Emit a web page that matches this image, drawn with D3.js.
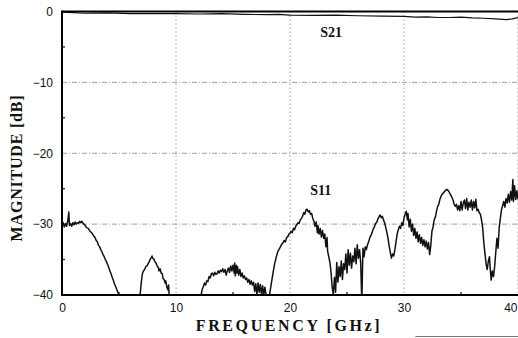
<!DOCTYPE html>
<html lang="en">
<head>
<meta charset="UTF-8">
<title>S-parameters vs frequency</title>
<script src="https://d3js.org/d3.v7.min.js"></script>
<style>
  body { margin: 0; background: #fff; }
  .tick text { font-family: "Liberation Sans", Arial, sans-serif; font-size: 12px; fill: #111; }
  .title { font-family: "Liberation Serif", "Times New Roman", serif; font-weight: bold; fill: #111; }
</style>
</head>
<body>
<svg id="chart" width="518" height="338"></svg>
<script>
// tick labels
var xTicks = [0, 10, 20, 30, 40];
var yTicks = [0, -10, -20, -30, -40];
var xMinor = [5, 15, 25, 35];
var yMinor = [-5, -15, -25, -35];

// S21 [GHz, dB]
var s21 = [[0,-0.1],[1,-0.15],[2,-0.25],[4,-0.2],[6,-0.3],[8,-0.3],[10,-0.3],[12,-0.35],[14,-0.3],
  [16,-0.4],[18,-0.45],[19,-0.4],[20,-0.5],[22,-0.55],[24,-0.5],[26,-0.6],[28,-0.65],[30,-0.7],
  [31,-0.8],[32,-0.75],[33,-0.85],[34,-0.85],[35,-0.8],[36,-0.9],[37,-0.95],[38,-1.05],[39,-1.15],
  [39.5,-1.05],[40,-0.85]];

// S11 [GHz, dB], values under -40 run off the axis
var s11 = [[0,-30.2],[0.1,-29.8],[0.2,-30.4],[0.3,-29.9],[0.4,-30.3],[0.5,-29.6],[0.6,-28.3],[0.65,-30.2],
  [0.75,-29.9],[0.85,-30.3],[0.95,-29.8],[1.05,-30.1],[1.15,-29.7],[1.25,-30.0],[1.35,-29.8],[1.45,-29.9],
  [1.55,-29.6],[1.65,-29.8],[1.75,-29.6],[1.85,-29.9],[2.0,-30.1],[2.15,-30.5],[2.3,-30.6],[2.45,-31.0],
  [2.6,-31.2],[2.75,-31.6],[2.9,-31.9],[3.0,-32.3],[3.1,-32.5],[3.2,-33.0],[3.3,-33.2],[3.4,-33.6],
  [3.5,-33.9],[3.6,-34.3],[3.7,-34.6],[3.8,-35.0],[3.9,-35.3],[4.0,-35.7],[4.1,-36.1],[4.2,-36.6],
  [4.3,-37.0],[4.4,-37.5],[4.5,-37.9],[4.6,-38.4],[4.7,-38.8],[4.8,-39.2],[4.9,-39.6],[5.0,-40.0],
  [5.1,-41],[6.8,-41],
  [6.85,-40],[6.95,-38.3],[7.05,-37.0],[7.15,-36.6],[7.25,-36.4],[7.35,-36.0],[7.45,-35.9],[7.55,-35.6],
  [7.65,-35.3],[7.75,-34.9],[7.85,-34.7],[7.9,-34.5],[7.95,-34.8],[8.05,-34.9],[8.15,-35.3],[8.25,-35.5],
  [8.35,-35.9],[8.45,-36.1],[8.5,-36.6],[8.6,-36.3],[8.7,-36.9],[8.8,-37.0],[8.85,-37.6],[8.95,-37.8],
  [9.05,-38.3],[9.1,-38.0],[9.2,-38.9],[9.3,-39.3],[9.35,-38.6],[9.4,-40],[9.5,-41],[12.1,-41],
  [12.2,-40],[12.3,-39.2],[12.4,-38.8],[12.5,-38.3],[12.6,-38.6],[12.7,-38.0],[12.8,-38.1],[12.9,-37.4],
  [13.0,-37.6],[13.1,-37.0],[13.2,-36.9],[13.3,-37.3],[13.4,-36.8],[13.5,-37.1],[13.6,-37.0],[13.7,-36.6],
  [13.8,-36.9],[13.9,-36.5],[14.0,-36.7],[14.1,-36.3],[14.2,-36.8],[14.3,-36.4],[14.4,-37.2],[14.5,-36.6],
  [14.6,-36.2],[14.7,-36.8],[14.8,-35.9],[14.9,-36.6],[15.0,-35.8],[15.1,-36.9],[15.15,-35.5],[15.2,-37.3],
  [15.3,-35.8],[15.35,-36.9],[15.4,-36.0],[15.5,-37.2],[15.6,-36.4],[15.7,-37.4],[15.8,-36.9],[15.9,-37.6],
  [16.0,-37.3],[16.1,-37.8],[16.2,-37.6],[16.3,-38.2],[16.4,-37.8],[16.5,-38.5],[16.6,-38.0],[16.7,-38.6],
  [16.8,-38.2],[16.9,-39.5],[17.0,-38.4],[17.1,-40],[17.2,-38.3],[17.3,-39.6],[17.4,-38.5],[17.5,-40],
  [17.6,-38.7],[17.7,-40],[17.8,-38.9],[17.9,-40],[18.1,-41],[18.2,-40],
  [18.35,-38.5],[18.5,-37.0],[18.65,-35.6],[18.8,-34.6],[18.95,-33.8],[19.1,-33.4],[19.25,-32.9],[19.4,-32.6],
  [19.5,-32.3],[19.6,-32.5],[19.7,-31.9],[19.8,-31.8],[19.9,-31.4],[20.0,-31.3],[20.1,-31.0],[20.2,-31.2],
  [20.3,-30.6],[20.4,-30.8],[20.5,-30.3],[20.6,-30.1],[20.7,-29.8],[20.8,-29.9],[20.9,-29.4],[21.0,-29.2],
  [21.1,-28.9],[21.2,-28.4],[21.3,-28.6],[21.4,-28.0],[21.5,-27.9],[21.6,-28.3],[21.7,-28.1],[21.8,-28.6],
  [21.9,-28.5],[22.0,-29.2],[22.1,-29.6],[22.2,-30.3],[22.3,-29.7],[22.4,-31.2],[22.45,-30.2],[22.55,-31.4],
  [22.65,-30.6],[22.75,-31.8],[22.85,-30.9],[22.95,-32.0],[23.05,-31.4],[23.15,-33.2],[23.25,-31.9],[23.3,-33.8],
  [23.4,-34.6],[23.5,-35.4],
  [23.6,-36.8],[23.7,-38.9],[23.8,-40],[23.9,-37.5],[24.0,-39.6],[24.1,-35.4],[24.2,-38.2],[24.3,-36.0],
  [24.4,-37.4],[24.5,-35.2],[24.6,-37.8],[24.7,-35.6],[24.8,-36.4],[24.9,-34.2],[25.0,-36.9],[25.1,-33.6],
  [25.2,-35.8],[25.3,-34.1],[25.4,-36.2],[25.5,-34.5],[25.6,-35.3],[25.7,-33.4],[25.8,-35.6],[25.9,-32.9],
  [26.0,-34.8],[26.1,-33.6],[26.2,-35.4],[26.3,-41],[26.4,-33.4],[26.5,-34.6],[26.6,-33.2],
  [26.7,-33.6],[26.8,-32.9],[26.9,-32.5],[27.0,-31.9],[27.1,-31.6],[27.2,-31.2],[27.3,-30.7],[27.4,-30.4],
  [27.5,-29.9],[27.6,-29.8],[27.7,-29.3],[27.8,-29.0],[27.9,-28.7],[28.0,-29.1],[28.1,-28.9],[28.2,-29.4],
  [28.3,-29.8],[28.4,-30.5],[28.5,-31.2],[28.6,-32.0],[28.7,-33.1],[28.8,-34.0],[28.9,-34.8],[29.0,-34.2],
  [29.1,-34.5],[29.2,-33.6],[29.3,-32.5],[29.4,-31.4],[29.5,-30.8],[29.6,-30.3],[29.7,-30.6],[29.8,-29.8],
  [29.9,-30.2],[30.0,-29.1],[30.1,-28.6],[30.2,-28.2],[30.3,-29.4],[30.35,-28.5],[30.45,-30.4],[30.55,-29.3],
  [30.65,-31.0],[30.75,-30.0],[30.85,-31.6],[30.95,-30.6],[31.05,-32.0],[31.15,-31.1],[31.25,-32.5],[31.35,-31.5],
  [31.45,-32.7],[31.55,-31.9],[31.65,-33.0],[31.75,-32.2],[31.85,-33.2],[31.95,-32.4],[32.05,-33.5],[32.15,-32.6],
  [32.25,-34.3],[32.35,-33.0],[32.45,-31.0],
  [32.55,-30.4],[32.65,-29.4],[32.75,-29.0],[32.85,-28.2],[32.95,-27.5],[33.05,-27.2],[33.15,-26.5],[33.3,-25.9],
  [33.45,-25.6],[33.6,-25.3],[33.75,-25.1],[33.9,-25.3],[34.0,-25.6],[34.1,-25.9],[34.2,-26.2],[34.3,-26.6],
  [34.4,-27.2],[34.5,-27.5],[34.6,-27.2],[34.7,-28.0],[34.8,-27.4],[34.9,-28.1],[35.0,-26.8],[35.1,-28.0],
  [35.2,-27.0],[35.3,-26.6],[35.4,-27.8],[35.5,-26.4],[35.6,-28.0],[35.7,-26.9],[35.8,-27.6],[35.9,-26.6],
  [36.0,-28.0],[36.1,-26.8],[36.2,-27.7],[36.3,-26.5],[36.4,-28.1],[36.5,-27.9],[36.6,-28.4],[36.7,-28.6],
  [36.8,-29.4],[36.9,-30.5],[37.0,-32.6],[37.1,-34.1],[37.2,-35.6],[37.3,-36.4],[37.4,-35.2],[37.5,-34.6],
  [37.55,-36.0],[37.65,-37.9],[37.75,-36.6],[37.85,-37.4],[37.95,-36.0],[38.05,-34.0],[38.15,-32.0],[38.25,-33.4],
  [38.35,-30.5],[38.45,-29.2],[38.55,-28.0],[38.65,-27.4],[38.75,-26.8],[38.85,-27.6],[38.95,-26.4],[39.05,-27.0],
  [39.15,-25.8],[39.25,-26.9],[39.35,-25.4],[39.45,-26.6],[39.55,-23.7],[39.6,-26.8],[39.7,-24.6],[39.8,-26.5],
  [39.9,-25.3],[40.0,-26.5]];

var svg = d3.select("#chart");
var margin = {top: 11.5, left: 62};
var w = 456, h = 283.5;

var x = d3.scaleLinear().domain([0, 40]).range([0, w]);
var y = d3.scaleLinear().domain([-40, 0]).range([h, 0]);

svg.append("rect").attr("width", 518).attr("height", 338).attr("fill", "#fff");

var g = svg.append("g").attr("transform", "translate(" + margin.left + "," + margin.top + ")");

svg.append("defs").append("clipPath").attr("id", "plot")
  .append("rect").attr("x", 0).attr("y", -2).attr("width", w).attr("height", h + 2);

// grid
g.selectAll(".vgrid").data(xTicks.slice(1)).enter().append("line")
  .attr("x1", d => x(d)).attr("x2", d => x(d)).attr("y1", 0).attr("y2", h)
  .attr("stroke", "#888").attr("stroke-width", 0.8).attr("stroke-dasharray", "1.5,2.5");
g.selectAll(".hgrid").data(yTicks.slice(1, 4)).enter().append("line")
  .attr("x1", 0).attr("x2", w).attr("y1", d => y(d)).attr("y2", d => y(d))
  .attr("stroke", "#888").attr("stroke-width", 0.8).attr("stroke-dasharray", "5,2,1,2");

// minor ticks
g.selectAll(".ymin").data(yMinor).enter().append("line")
  .attr("x1", 0).attr("x2", 3).attr("y1", d => y(d)).attr("y2", d => y(d))
  .attr("stroke", "#111").attr("stroke-width", 1.2);
g.selectAll(".xmin").data(xMinor).enter().append("line")
  .attr("x1", d => x(d)).attr("x2", d => x(d)).attr("y1", h).attr("y2", h - 3)
  .attr("stroke", "#111").attr("stroke-width", 1.2);

// curves
var line = d3.line().x(d => x(d[0])).y(d => y(d[1]));
var curves = g.append("g").attr("clip-path", "url(#plot)");
curves.append("path").datum(s11).attr("d", line)
  .attr("fill", "none").attr("stroke", "#111").attr("stroke-width", 1.5).attr("stroke-linejoin", "round");
curves.append("path").datum(s21).attr("d", line)
  .attr("fill", "none").attr("stroke", "#111").attr("stroke-width", 1.2);

// frame
g.append("line").attr("x1", 0).attr("x2", 0).attr("y1", -1).attr("y2", h + 1)
  .attr("stroke", "#000").attr("stroke-width", 2);
g.append("line").attr("x1", 0).attr("x2", w).attr("y1", h).attr("y2", h)
  .attr("stroke", "#000").attr("stroke-width", 2);
g.append("line").attr("x1", 0).attr("x2", w).attr("y1", 0).attr("y2", 0)
  .attr("stroke", "#000").attr("stroke-width", 1.8);

// axes labels
var yAxis = g.append("g").call(d3.axisLeft(y).tickValues(yTicks).tickSize(0).tickPadding(9));
yAxis.select(".domain").remove();
var xAxis = g.append("g").attr("transform", "translate(0," + h + ")")
  .call(d3.axisBottom(x).tickValues(xTicks).tickSize(0).tickPadding(8));
xAxis.select(".domain").remove();
// last label sits inside the page edge
xAxis.selectAll(".tick text").filter(d => d === 40).attr("text-anchor", "end").attr("dx", "-1");

// titles
svg.append("text").attr("class", "title")
  .attr("transform", "translate(22,168) rotate(-90)")
  .attr("text-anchor", "middle").style("font-size", "16px").style("letter-spacing", "0.8px")
  .text("MAGNITUDE [dB]");
svg.append("text").attr("class", "title")
  .attr("x", 289).attr("y", 331).attr("text-anchor", "middle")
  .style("font-size", "16px").style("letter-spacing", "2.6px")
  .text("FREQUENCY [GHz]");

svg.append("text").attr("class", "title")
  .attr("x", x(23.6) + margin.left).attr("y", y(-3.6) + margin.top).attr("text-anchor", "middle")
  .style("font-size", "14px").text("S21");
svg.append("text").attr("class", "title")
  .attr("x", x(22.7) + margin.left).attr("y", y(-25.9) + margin.top).attr("text-anchor", "middle")
  .style("font-size", "14px").text("S11");

// faint rule under the plot at lower right
svg.append("line").attr("x1", margin.left + x(31)).attr("x2", 518).attr("y1", 336.5).attr("y2", 336.5)
  .attr("stroke", "#777").attr("stroke-width", 1);
</script>
</body>
</html>
